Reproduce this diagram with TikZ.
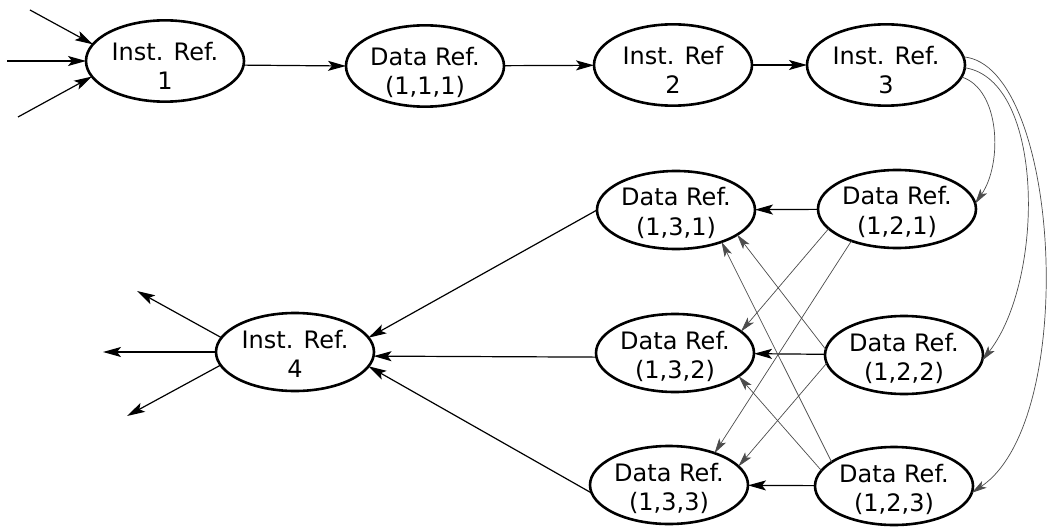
\documentclass[tikz,border=0pt]{standalone}
\usepackage{fontspec}
\setmainfont{DejaVu Sans}
\usetikzlibrary{arrows.meta,shapes.geometric}
\begin{document}
\begin{tikzpicture}[x=1pt,y=-1pt,
  refnode/.style={ellipse, draw, line width=2.6pt, minimum width=158pt,
    minimum height=78pt, inner sep=0pt, outer sep=0pt, align=center,
    font=\fontsize{24}{29}\selectfont},
  toprow/.style={refnode, text height=57.5pt, text depth=-5.5pt},
  lowrow/.style={refnode, text height=51pt, text depth=1pt},
  flow/.style={line width=1.2pt, -{Stealth[length=18pt,width=10pt,inset=4pt]}},
  link/.style={line width=0.7pt, draw=black!70,
    -{Stealth[length=15pt,width=8pt,inset=3.5pt]}},
]
\fill[white] (0,0) rectangle (1056,529);
\useasboundingbox (0,0) rectangle (1056,529);

% instruction and data reference nodes
\node[toprow] (i1)   at (165,61)  {Inst. Ref.\\1};
\node[toprow] (d111) at (425,66)  {Data Ref.\\(1,1,1)};
\node[toprow] (i2)   at (673,65)  {Inst. Ref\\2};
\node[toprow] (i3)   at (886,65)  {Inst. Ref.\\3};
\node[lowrow] (d131) at (676,210) {Data Ref.\\(1,3,1)};
\node[lowrow] (d121) at (897,209) {Data Ref.\\(1,2,1)};
\node[lowrow] (d132) at (675,353) {Data Ref.\\(1,3,2)};
\node[lowrow] (d122) at (904,355) {Data Ref.\\(1,2,2)};
\node[lowrow] (d133) at (669,485) {Data Ref.\\(1,3,3)};
\node[lowrow] (d123) at (894,486) {Data Ref.\\(1,2,3)};
\node[lowrow] (i4)   at (295,352) {Inst. Ref.\\4};

% loose ends of incoming and outgoing arrows
\coordinate (in1) at (30,10);
\coordinate (in2) at (7,61);
\coordinate (in3) at (18,117);
\coordinate (out1) at (137,291);
\coordinate (out2) at (103,352);
\coordinate (out3) at (127,416);

% main sequence
\draw[flow] (in1) -- (i1.167);
\draw[flow] (in2) -- (i1.west);
\draw[flow] (in3) -- (i1.192);
\draw[flow] (i1.-3) -- (d111.west);
\draw[flow] (d111) -- (i2);
\draw[flow] (i2) -- (i3);

% fan-out from Inst. Ref. 3
\draw[link] (i3.-9) .. controls (1000,89) and (1003,163) .. (d121.4);
\draw[link] (i3.-2) .. controls (1045,80) and (1045,280) .. (d122.-4);
\draw[link] (i3.6) .. controls (1060,65) and (1080,420) .. (d123.-5);

% second column to third column
\draw[flow] (d121) -- (d131);
\draw[flow] (d122) -- (d132);
\draw[flow] (d123) -- (d133);
\draw[link] (d121.196) -- (d132.18);
\draw[link] (d121.215) -- (d133.35);
\draw[link] (d122.186) -- (d133.15);
\draw[link] (d122.176) -- (d131.-22);
\draw[link] (d123.159) -- (d131.-35);
\draw[link] (d123.168) -- (d132.-20);

% into and out of Inst. Ref. 4
\draw[flow] (d131.west) -- (i4.11);
\draw[flow] (d132.183) -- (i4.-3);
\draw[flow] (d133.186) -- (i4.-11);
\draw[flow] (i4.169) -- (out1);
\draw[flow] (i4.west) -- (out2);
\draw[flow] (i4.190) -- (out3);
\end{tikzpicture}
\end{document}
